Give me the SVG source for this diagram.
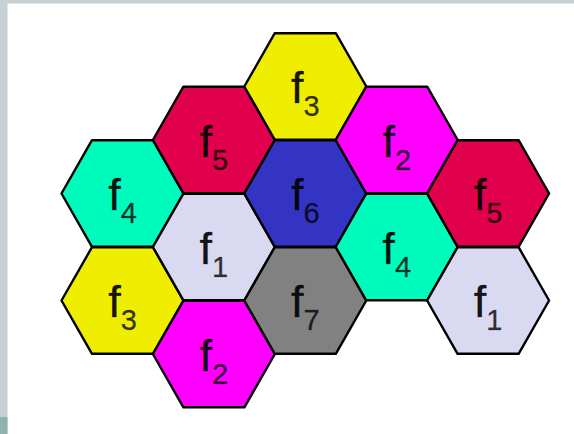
<svg xmlns="http://www.w3.org/2000/svg" xmlns:xlink="http://www.w3.org/1999/xlink" width="574" height="434" viewBox="0 0 574 434">
<style>
.hex{stroke:#000;stroke-width:2.4;stroke-linejoin:round}
.yellow{fill:#f0ee00}
.red{fill:#e1004b}
.magenta{fill:#ff00ff}
.teal{fill:#00fcbc}
.blue{fill:#3434c4}
.lav{fill:#d9d9f1}
.gray{fill:#818181}
.lbl{font-family:"Liberation Sans",Arial,sans-serif;text-anchor:middle;fill:#000;stroke:#000;stroke-width:0.5}
.f{font-size:45px;fill-opacity:0.92;stroke-opacity:0.6}
.s{font-size:29px;fill-opacity:0.78;stroke-opacity:0.4}
</style>
<defs>
<polygon id="hx" points="-61,0 -30.5,-53.3 30.5,-53.3 61,0 30.5,53.3 -30.5,53.3"/>
</defs>
<rect x="0" y="0" width="574" height="434" fill="#ffffff"/>
<rect x="0" y="0" width="574" height="3.5" fill="#c6d1d6"/>
<rect x="0" y="0" width="7.5" height="434" fill="#c6d1d6"/>
<rect x="0" y="417" width="7.5" height="17" fill="#8fb2b1"/>
<g id="connectors"></g>
<g id="n1"><use xlink:href="#hx" class="hex teal" x="122.5" y="193.5"/><text class="lbl" x="122.5" y="210"><tspan class="f">f</tspan><tspan class="s" dy="13">4</tspan></text></g>
<g id="n2"><use xlink:href="#hx" class="hex yellow" x="122.5" y="300.5"/><text class="lbl" x="122.5" y="317"><tspan class="f">f</tspan><tspan class="s" dy="13">3</tspan></text></g>
<g id="n3"><use xlink:href="#hx" class="hex red" x="213.9" y="140"/><text class="lbl" x="213.9" y="156.5"><tspan class="f">f</tspan><tspan class="s" dy="13">5</tspan></text></g>
<g id="n4"><use xlink:href="#hx" class="hex lav" x="213.9" y="247"/><text class="lbl" x="213.9" y="263.5"><tspan class="f">f</tspan><tspan class="s" dy="13">1</tspan></text></g>
<g id="n5"><use xlink:href="#hx" class="hex magenta" x="213.9" y="354"/><text class="lbl" x="213.9" y="370.5"><tspan class="f">f</tspan><tspan class="s" dy="13">2</tspan></text></g>
<g id="n6"><use xlink:href="#hx" class="hex yellow" x="305.3" y="86.5"/><text class="lbl" x="305.3" y="103"><tspan class="f">f</tspan><tspan class="s" dy="13">3</tspan></text></g>
<g id="n7"><use xlink:href="#hx" class="hex blue" x="305.3" y="193.5"/><text class="lbl" x="305.3" y="210"><tspan class="f">f</tspan><tspan class="s" dy="13">6</tspan></text></g>
<g id="n8"><use xlink:href="#hx" class="hex gray" x="305.3" y="300.5"/><text class="lbl" x="305.3" y="317"><tspan class="f">f</tspan><tspan class="s" dy="13">7</tspan></text></g>
<g id="n9"><use xlink:href="#hx" class="hex magenta" x="396.7" y="140"/><text class="lbl" x="396.7" y="156.5"><tspan class="f">f</tspan><tspan class="s" dy="13">2</tspan></text></g>
<g id="n10"><use xlink:href="#hx" class="hex teal" x="396.7" y="247"/><text class="lbl" x="396.7" y="263.5"><tspan class="f">f</tspan><tspan class="s" dy="13">4</tspan></text></g>
<g id="n11"><use xlink:href="#hx" class="hex red" x="488.1" y="193.5"/><text class="lbl" x="488.1" y="210"><tspan class="f">f</tspan><tspan class="s" dy="13">5</tspan></text></g>
<g id="n12"><use xlink:href="#hx" class="hex lav" x="488.1" y="300.5"/><text class="lbl" x="488.1" y="317"><tspan class="f">f</tspan><tspan class="s" dy="13">1</tspan></text></g>
</svg>
